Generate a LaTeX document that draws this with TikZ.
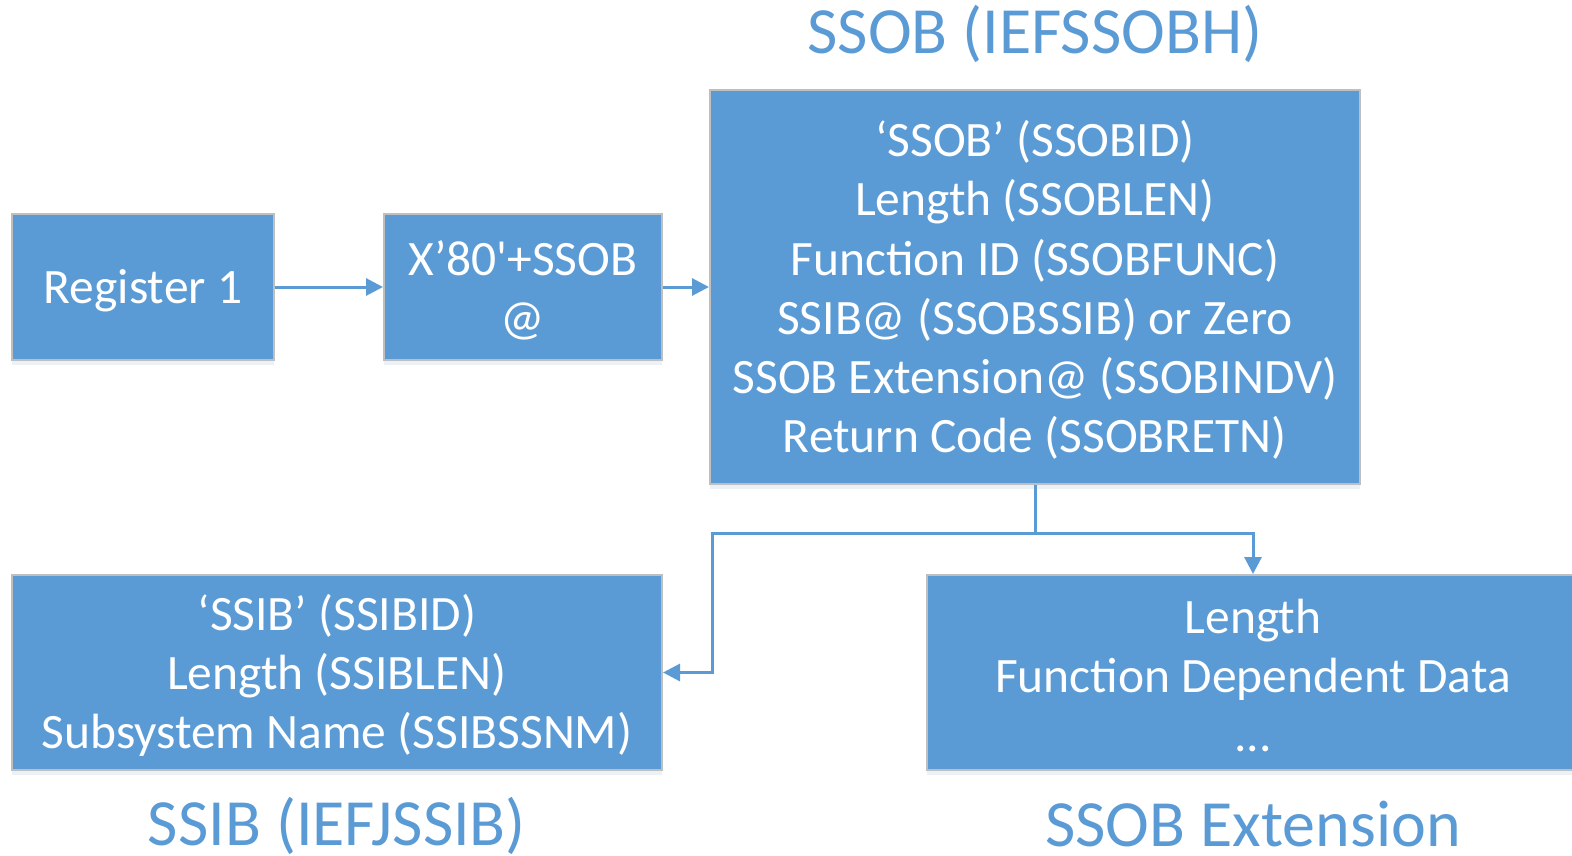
\documentclass[tikz,border=0pt]{standalone}
\usepackage{fontspec}
\setmainfont{Carlito}
\usetikzlibrary{arrows.meta,shadows}
\definecolor{boxblue}{RGB}{91,155,213}
\definecolor{edgegrey}{RGB}{191,191,191}
\definecolor{shade}{RGB}{150,175,205}
\tikzset{
  block/.style={rectangle, fill=boxblue, draw=edgegrey, line width=2pt,
    inner sep=0pt,
    drop shadow={shadow xshift=0pt, shadow yshift=-5pt, opacity=0.18, fill=shade}},
  txt/.style={text=white, align=center, inner sep=0pt,
    font=\fontsize{49.5}{59.2}\selectfont},
  title/.style={text=boxblue, anchor=base, inner sep=0pt,
    font=\fontsize{66}{79}\selectfont},
  conn/.style={draw=boxblue, line width=3pt},
  arr/.style={conn, -{Triangle[length=17pt,width=17pt]}}
}
\begin{document}
\begin{tikzpicture}[x=1pt,y=-1pt]
  \useasboundingbox (0,0) rectangle (1572,856);

  % boxes
  \node[block, minimum width=262pt, minimum height=146pt] (reg) at (143,287) {};
  \node[block, minimum width=278pt, minimum height=146pt] (ptr) at (523,287) {};
  \node[block, minimum width=650pt, minimum height=393pt] (ssob) at (1035,287) {};
  \node[block, minimum width=650pt, minimum height=195pt] (ssib) at (337,672.5) {};
  \node[block, minimum width=652pt, minimum height=195pt] (ext) at (1253,672.5) {};

  % box contents
  \node[txt] (regT) at ([yshift=-4pt]reg.center) {Register 1};
  \node[txt] (ptrT) at ([yshift=-3pt]ptr.center) {X’80\textquotesingle+SSOB\\@};
  \node[txt] (ssobT) at ([yshift=-3pt]ssob.center)
    {‘SSOB’ (SSOBID)\\Length (SSOBLEN)\\Function ID (SSOBFUNC)\\SSIB@ (SSOBSSIB) or Zero\\SSOB Extension@ (SSOBINDV)\\Return Code (SSOBRETN)};
  \node[txt] (ssibT) at ([yshift=-3pt]ssib.center)
    {‘SSIB’ (SSIBID)\\Length (SSIBLEN)\\Subsystem Name (SSIBSSNM)};
  \node[txt] (extT) at ([yshift=-3pt]ext.center)
    {Length\\Function Dependent Data\\...};

  % captions
  \node[title] (tssob) at (1035,54) {SSOB (IEFSSOBH)};
  \node[title] (tssib) at (337,845) {SSIB (IEFJSSIB)};
  \node[title] (text) at (1253,846) {SSOB Extension};

  % connectors
  \draw[arr] (reg.east) -- (ptr.west);
  \draw[arr] (ptr.east) -- (ssob.west);
  \coordinate (jn) at (1035,533);
  \coordinate (bend) at (712,533);
  \draw[conn] (ssob.south) -- (jn);
  \draw[arr] (jn) -- (bend) |- (ssib.east);
  \draw[arr] (jn) -| (ext.north);
\end{tikzpicture}
\end{document}
